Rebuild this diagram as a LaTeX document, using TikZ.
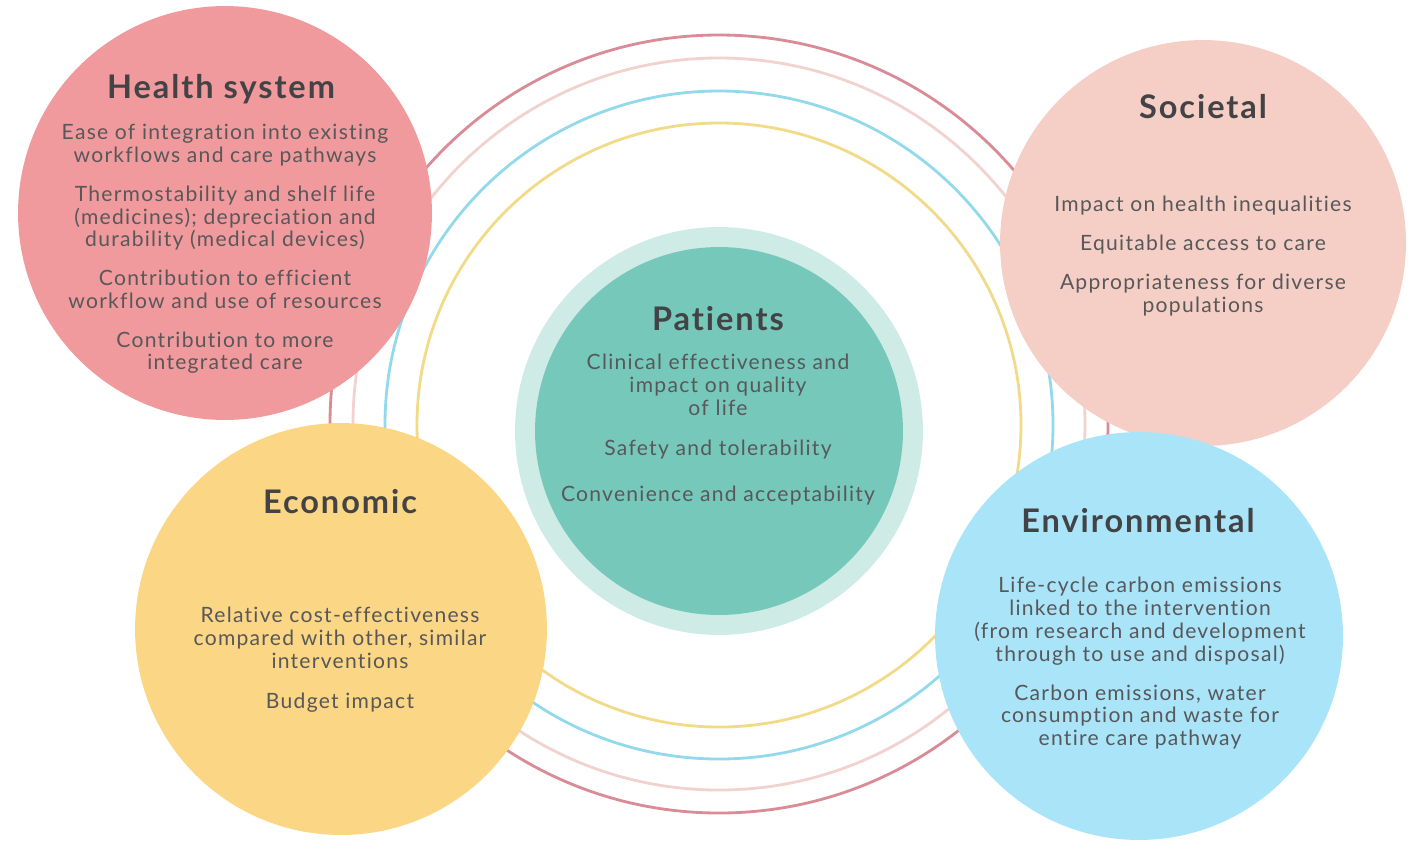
\documentclass[tikz,border=0pt]{standalone}
\usepackage{fontspec}
\setmainfont{Lato}[LetterSpace=6, Ligatures=NoCommon]
\usetikzlibrary{calc, positioning}
\definecolor{hsred}{HTML}{F19A9D}
\definecolor{socpeach}{HTML}{F5CFC6}
\definecolor{ecoyellow}{HTML}{FBD684}
\definecolor{envblue}{HTML}{A9E4F8}
\definecolor{patteal}{HTML}{76C8BB}
\definecolor{pathalo}{HTML}{CFEBE6}
\definecolor{ringred}{HTML}{D98B96}
\definecolor{ringpink}{HTML}{F1D2CE}
\definecolor{ringcyan}{HTML}{92D9EC}
\definecolor{ringyellow}{HTML}{F1DB88}
\definecolor{titlegray}{HTML}{434345}
\definecolor{textgray}{HTML}{58585A}
\tikzset{
  font=\fontsize{12}{13}\selectfont,
  % Concentric rings
  ring/.style={line width=1.6pt},
  % Dimension bubble
  bubble/.style={draw=none, shape=circle, minimum size=#1, inner sep=0pt},
  % Bubble title
  btitle/.style={font=\bfseries\fontsize{18.5}{22}\selectfont, text=titlegray,
    inner sep=0pt, anchor=base},
  % Bubble text
  btext/.style={align=center, text=textgray, inner sep=0pt, anchor=north},
}

\begin{document}
\begin{tikzpicture}[x=0.02cm, y=-0.02cm]
  \useasboundingbox (0,0) rectangle (1416,840);

  % rings behind
  \draw[ring, ringred] (719,424) circle [radius=389];
  \draw[ring, ringpink] (719,424) circle [radius=366];
  \draw[ring, ringcyan] (719,425) circle [radius=334];
  \draw[ring, ringyellow] (719,425) circle [radius=302];

  % bubbles
  \node[bubble=8.28cm, fill=hsred] (health) at (225,213) {};
  \node[bubble=8.12cm, fill=socpeach] (societal) at (1203,243) {};
  \node[bubble=8.24cm, fill=ecoyellow] (economic) at (341,629) {};
  \node[bubble=8.16cm, fill=envblue] (environ) at (1139,636) {};
  \node[bubble=8.16cm, fill=pathalo] (halo) at (719,431) {};
  \node[bubble=7.36cm, fill=patteal] (patients) at (719,431) {};

  % titles
  \node[btitle] (healthT) at (221,98) {Health system};
  \node[btitle] (societalT) at (1203,118) {Societal};
  \node[btitle] (patientsT) at (718,330) {Patients};
  \node[btitle] (economicT) at (340,513) {Economic};
  \node[btitle] (environT) at (1138,532) {Environmental};

  % texts
  \node[btext] (healthX) at (225,124) {Ease of integration into existing\\
    workflows and care pathways\\[9pt]
    Thermostability and shelf life\\
    (medicines); depreciation and\\
    durability (medical devices)\\[9pt]
    Contribution to efficient\\
    workflow and use of resources\\[9pt]
    Contribution to more\\
    integrated care};
  \node[btext] (societalX) at (1203,196) {Impact on health inequalities\\[9pt]
    Equitable access to care\\[9pt]
    Appropriateness for diverse\\
    populations};
  \node[btext] (patientsX) at (718,354) {Clinical effectiveness and\\
    impact on quality\\
    of life\\[10pt]
    Safety and tolerability\\[13pt]
    Convenience and acceptability};
  \node[btext] (economicX) at (340,607) {Relative cost-effectiveness\\
    compared with other, similar\\
    interventions\\[9.5pt]
    Budget impact};
  \node[btext] (environX) at (1140,577) {Life-cycle carbon emissions\\
    linked to the intervention\\
    (from research and development\\
    through to use and disposal)\\[9pt]
    Carbon emissions, water\\
    consumption and waste for\\
    entire care pathway};
\end{tikzpicture}
\end{document}
